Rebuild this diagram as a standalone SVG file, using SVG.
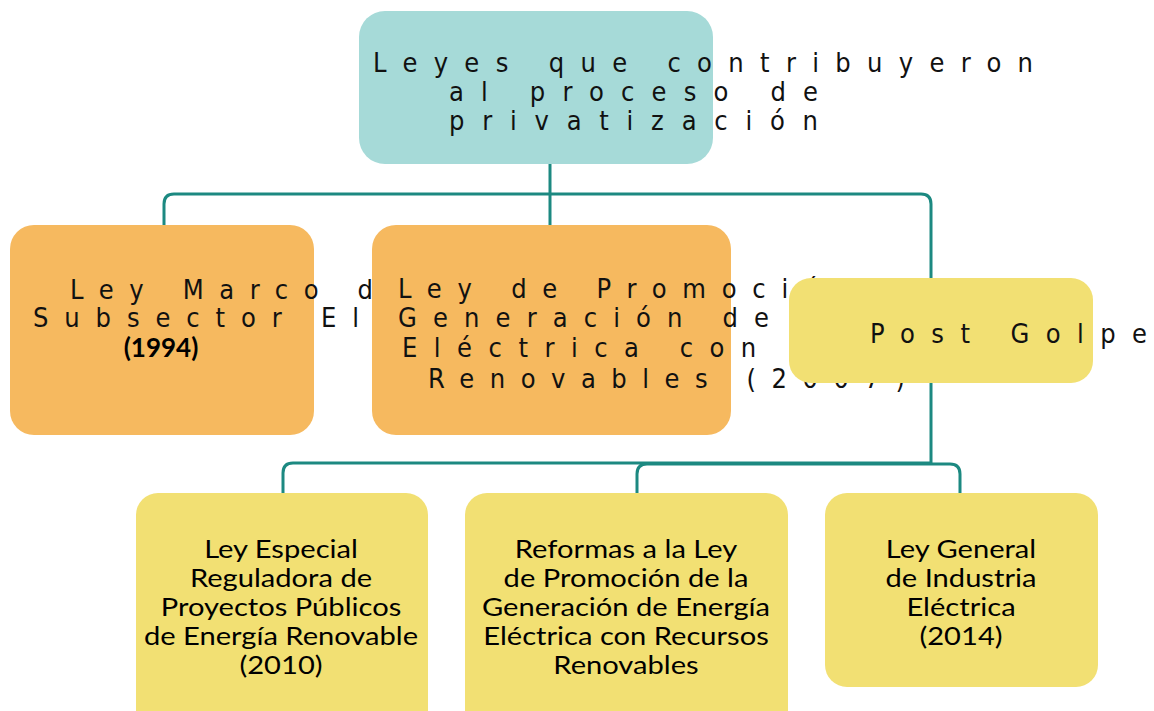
<svg xmlns="http://www.w3.org/2000/svg" width="1154" height="711" viewBox="0 0 1154 711">
<style>
.conn{fill:none;stroke:#1c8981;stroke-width:3;stroke-linecap:butt}
.teal{fill:#a6dad8}
.orange{fill:#f6b95f}
.yellow{fill:#f2e073}
.sp{font-family:'Liberation Sans Narrow','DejaVu Sans Condensed','Liberation Sans',sans-serif;font-size:27px;fill:#111}
.lato{font-family:Lato,'Liberation Sans',sans-serif;font-size:26px;fill:#000;text-anchor:middle}
</style>
<rect width="1154" height="711" fill="#fff"/>
<g id="connectors">
<path class="conn" d="M550,164 V194"/>
<path class="conn" d="M550,194 H174 Q164,194 164,204 V225"/>
<path class="conn" d="M550,194 V225"/>
<path class="conn" d="M550,194 H921 Q931,194 931,204 V463"/>
<path class="conn" d="M931,463 H293 Q283,463 283,473 V493"/>
<path class="conn" d="M931,464 H647 Q637,464 637,474 V493"/>
<path class="conn" d="M931,464 H950 Q960,464 960,474 V493"/>
</g>
<g id="node-root">
<rect class="teal" x="359" y="11" width="354" height="153" rx="26"/>
<text class="sp" x="373" y="72" textLength="660" lengthAdjust="spacing">Leyes que contribuyeron</text>
<text class="sp" x="449" y="101" textLength="369" lengthAdjust="spacing">al proceso de</text>
<text class="sp" x="449" y="130" textLength="369" lengthAdjust="spacing">privatización</text>
</g>
<g id="node-ley-marco">
<rect class="orange" x="10" y="225" width="304" height="210" rx="24"/>
<text class="sp" x="70" y="299" textLength="356" lengthAdjust="spacing">Ley Marco del</text>
<text class="sp" x="33" y="327" textLength="520" lengthAdjust="spacing">Subsector Eléctrico</text>
<text class="lato" x="161" y="357" font-weight="bold" font-size="28">(1994)</text>
</g>
<g id="node-ley-promocion">
<rect class="orange" x="372" y="225" width="359" height="210" rx="24"/>
<text class="sp" x="398" y="298" textLength="614" lengthAdjust="spacing">Ley de Promoción de la</text>
<text class="sp" x="398" y="327" textLength="600" lengthAdjust="spacing">Generación de Energía</text>
<text class="sp" x="402" y="357" textLength="620" lengthAdjust="spacing">Eléctrica con Recursos</text>
<text class="sp" x="428" y="388" textLength="477" lengthAdjust="spacing">Renovables (2007)</text>
</g>
<g id="node-post-golpe">
<rect class="yellow" x="789" y="278" width="304" height="105" rx="22"/>
<text class="sp" x="870" y="343" textLength="277" lengthAdjust="spacing">Post Golpe</text>
</g>
<g id="node-ley-especial">
<rect class="yellow" x="136" y="493" width="292" height="240" rx="22"/>
<g transform="translate(281,0) scale(1.12,1)">
<text class="lato" x="0" y="558">Ley Especial</text>
<text class="lato" x="0" y="587">Reguladora de</text>
<text class="lato" x="0" y="616">Proyectos Públicos</text>
<text class="lato" x="0" y="645">de Energía Renovable</text>
<text class="lato" x="0" y="674">(2010)</text>
</g>
</g>
<g id="node-reformas">
<rect class="yellow" x="465" y="493" width="323" height="240" rx="22"/>
<g transform="translate(626,0) scale(1.12,1)">
<text class="lato" x="0" y="558">Reformas a la Ley</text>
<text class="lato" x="0" y="587">de Promoción de la</text>
<text class="lato" x="0" y="616">Generación de Energía</text>
<text class="lato" x="0" y="645">Eléctrica con Recursos</text>
<text class="lato" x="0" y="674">Renovables</text>
</g>
</g>
<g id="node-ley-general">
<rect class="yellow" x="825" y="493" width="273" height="194" rx="22"/>
<g transform="translate(961,0) scale(1.12,1)">
<text class="lato" x="0" y="558">Ley General</text>
<text class="lato" x="0" y="587">de Industria</text>
<text class="lato" x="0" y="616">Eléctrica</text>
<text class="lato" x="0" y="645">(2014)</text>
</g>
</g>
</svg>
